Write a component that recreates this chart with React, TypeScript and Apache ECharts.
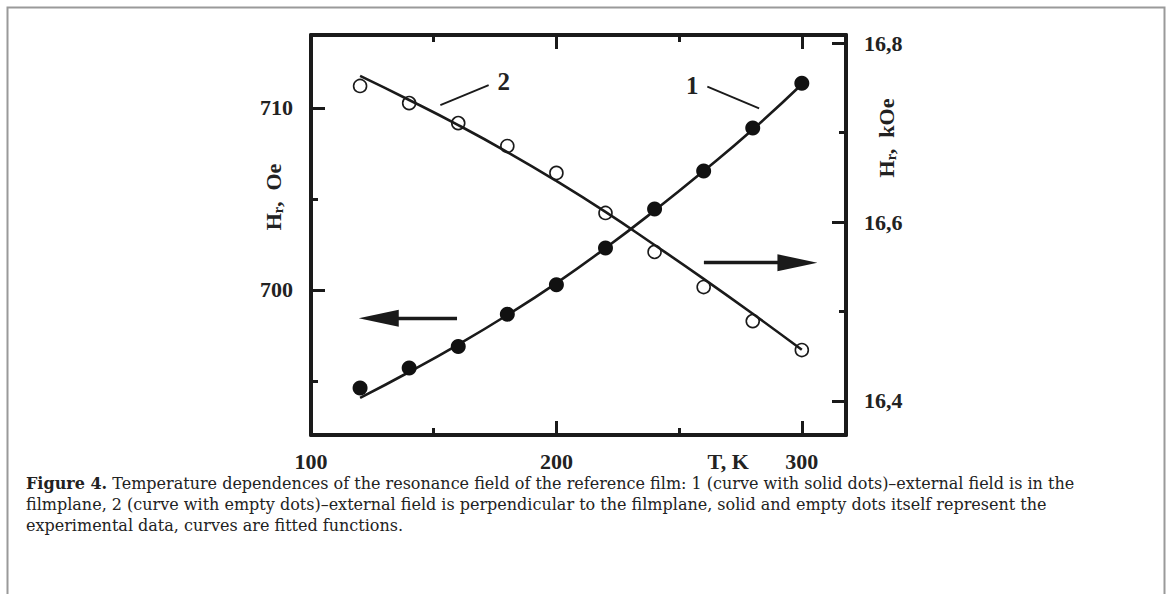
import React, { useEffect, useRef } from "react";
import * as echarts from "echarts";

// ---- data ----
const temperatures = [120, 140, 160, 180, 200, 220, 240, 260, 280, 300];
// curve 1 (solid dots), right axis, kOe
const solidDotsKOe = [16.4145, 16.437, 16.461, 16.497, 16.53, 16.571, 16.6145, 16.657, 16.705, 16.755];
const fit1KOe = [16.4034, 16.4324, 16.4631, 16.4961, 16.5318, 16.5709, 16.6128, 16.657, 16.7034, 16.754];
// curve 2 (empty dots), left axis, Oe
const emptyDotsOe = [711.21, 710.27, 709.17, 707.91, 706.43, 704.23, 702.09, 700.16, 698.29, 696.7];
const fit2Oe = [711.76, 710.44, 709.06, 707.58, 705.99, 704.29, 702.47, 700.61, 698.69, 696.71];

const xMajorTicks = [200, 300];
const xMinorTicks = [150, 250];
const xLabels = [100, 200, 270, 300];
const leftMajor = [700, 710];
const leftMinor = [695, 705];
const rightMajor = [16.4, 16.6, 16.8];
const rightMinor = [16.5, 16.7];

const captionLines = [
  "{b|Figure 4.} Temperature dependences of the resonance field of the reference film: 1 (curve with solid dots)\u2013external field is in the",
  "filmplane, 2 (curve with empty dots)\u2013external field is perpendicular to the filmplane, solid and empty dots itself represent the",
  "experimental data, curves are fitted functions.",
];

const SERIF = "'Liberation Serif', 'Times New Roman', serif";
const CAPTION_FONT = "'DejaVu Serif', serif";

export default function App() {
  const ref = useRef<HTMLDivElement>(null);
  useEffect(() => {
    if (!ref.current) return;
    const chart = echarts.init(ref.current, undefined, { renderer: "svg" });
    const labelStyle = { fontFamily: SERIF, fontWeight: "bold", fontSize: 22, color: "#222" };
    const axisLine = { show: true, lineStyle: { color: "#1a1a1a", width: 4 } };
    const noLine = { show: false };
    const xBase = { type: "value", min: 100, max: 318, splitLine: { show: false }, gridIndex: 0 };
    const yLeftBase = { type: "value", min: 692.03, max: 714.01, splitLine: { show: false } };
    const yRightBase = { type: "value", min: 16.362, max: 16.809, splitLine: { show: false } };
    const nameRich = {
      h: { fontFamily: SERIF, fontWeight: "bold", fontSize: 22, color: "#222" },
      r: { fontFamily: SERIF, fontWeight: "bold", fontSize: 14, color: "#222", padding: [10, 0, 0, 0] },
    };
    const tick = (length: number, values: number[]) => ({
      show: true,
      inside: true,
      length,
      lineStyle: { width: 3, color: "#1a1a1a" },
      customValues: values,
    });

    const option: any = {
      animation: false,
      backgroundColor: "#ffffff",
      grid: { left: 311, top: 35, width: 535, height: 400, containLabel: false },
      xAxis: [
        {
          ...xBase,
          position: "bottom",
          axisLine,
          axisTick: tick(14, xMajorTicks),
          axisLabel: {
            ...labelStyle,
            margin: 15,
            customValues: xLabels,
            formatter: (v: number) => (v === 270 ? "T, K" : String(v)),
          },
        },
        { ...xBase, position: "bottom", axisLine: noLine, axisTick: tick(7, xMinorTicks), axisLabel: { show: false } },
        { ...xBase, position: "top", axisLine, axisTick: tick(14, xMajorTicks), axisLabel: { show: false } },
        { ...xBase, position: "top", axisLine: noLine, axisTick: tick(7, xMinorTicks), axisLabel: { show: false } },
      ],
      yAxis: [
        {
          ...yLeftBase,
          position: "left",
          axisLine,
          axisTick: tick(14, leftMajor),
          axisLabel: { ...labelStyle, margin: 18, customValues: leftMajor },
          name: "{h|H}{r|r}{h|,  Oe}",
          nameLocation: "middle",
          nameRotate: 90,
          nameGap: 26,
          nameMoveOverlap: false,
          nameTextStyle: { rich: nameRich, padding: [0, 0, 0, 76] },
        },
        { ...yLeftBase, position: "left", axisLine: noLine, axisTick: tick(7, leftMinor), axisLabel: { show: false } },
        {
          ...yRightBase,
          position: "right",
          axisLine,
          axisTick: tick(14, rightMajor),
          axisLabel: {
            ...labelStyle,
            margin: 18,
            customValues: rightMajor,
            formatter: (v: number) => v.toFixed(1).replace(".", ","),
          },
          name: "{h|H}{r|r}{h|,  kOe}",
          nameLocation: "middle",
          nameRotate: 90,
          nameGap: 28,
          nameMoveOverlap: false,
          nameTextStyle: { rich: nameRich, padding: [0, 0, 0, 194] },
        },
        { ...yRightBase, position: "right", axisLine: noLine, axisTick: tick(7, rightMinor), axisLabel: { show: false } },
      ],
      series: [
        {
          name: "fit 1",
          type: "line",
          xAxisIndex: 0,
          yAxisIndex: 2,
          smooth: true,
          symbol: "none",
          lineStyle: { color: "#1a1a1a", width: 2.6 },
          data: temperatures.map((t, i) => [t, fit1KOe[i]]),
          z: 2,
        },
        {
          name: "1 (solid dots)",
          type: "scatter",
          xAxisIndex: 0,
          yAxisIndex: 2,
          symbol: "circle",
          symbolSize: 15,
          itemStyle: { color: "#111", opacity: 1 },
          data: temperatures.map((t, i) => [t, solidDotsKOe[i]]),
          z: 3,
        },
        {
          name: "fit 2",
          type: "line",
          xAxisIndex: 0,
          yAxisIndex: 0,
          smooth: true,
          symbol: "none",
          lineStyle: { color: "#1a1a1a", width: 2.6 },
          data: temperatures.map((t, i) => [t, fit2Oe[i]]),
          z: 2,
          markLine: {
            silent: true,
            animation: false,
            label: { show: false },
            data: [
              [
                { coord: [152.7, 710.16], symbol: "none", lineStyle: { color: "#1a1a1a", width: 1.8, type: "solid" } },
                { coord: [172.4, 711.26], symbol: "none" },
              ],
              [
                { coord: [261.5, 711.17], symbol: "none", lineStyle: { color: "#1a1a1a", width: 1.8, type: "solid" } },
                { coord: [282.6, 709.98], symbol: "none" },
              ],
              [
                { coord: [159.5, 698.45], symbol: "none", lineStyle: { color: "#1a1a1a", width: 3.4, type: "solid" } },
                { coord: [127.6, 698.45], symbol: "triangle", symbolSize: [17, 40] },
              ],
              [
                { coord: [260.1, 701.5], symbol: "none", lineStyle: { color: "#1a1a1a", width: 3.4, type: "solid" } },
                { coord: [298.2, 701.5], symbol: "triangle", symbolSize: [17, 40] },
              ],
            ],
          },
          markPoint: {
            silent: true,
            animation: false,
            symbol: "circle",
            symbolSize: 1,
            itemStyle: { color: "rgba(0,0,0,0)" },
            label: {
              show: true,
              position: "inside",
              fontFamily: SERIF,
              fontWeight: "bold",
              fontSize: 25,
              color: "#222",
            },
            data: [
              { coord: [178.5, 711.44], value: "2", label: { formatter: "2" } },
              { coord: [255.4, 711.26], value: "1", label: { formatter: "1" } },
            ],
          },
        },
        {
          name: "2 (empty dots)",
          type: "scatter",
          xAxisIndex: 0,
          yAxisIndex: 0,
          symbol: "circle",
          symbolSize: 13,
          itemStyle: { color: "rgba(255,255,255,0)", borderColor: "#1a1a1a", borderWidth: 1.6, opacity: 1 },
          data: temperatures.map((t, i) => [t, emptyDotsOe[i]]),
          z: 3,
        },
      ],
      graphic: [
        {
          type: "rect",
          left: 5,
          top: 5,
          shape: { x: 0, y: 0, width: 1157, height: 620 },
          style: { fill: "none", stroke: "#9a9a9a", lineWidth: 2 },
          silent: true,
          z: -10,
        },
        ...captionLines.map((line, i) => ({
          type: "text",
          left: 26,
          top: 475 + i * 21,
          silent: true,
          style: {
            text: line,
            fontFamily: CAPTION_FONT,
            fontSize: 16,
            fill: "#222",
            rich: { b: { fontFamily: CAPTION_FONT, fontWeight: "bold", fontSize: 16, fill: "#222" } },
          },
        })),
      ],
    };
    chart.setOption(option);
    return () => chart.dispose();
  }, []);
  return (
    <div
      ref={ref}
      style={{ position: "fixed", left: 0, top: 0, width: 1168, height: 594, background: "#fff" }}
    />
  );
}
